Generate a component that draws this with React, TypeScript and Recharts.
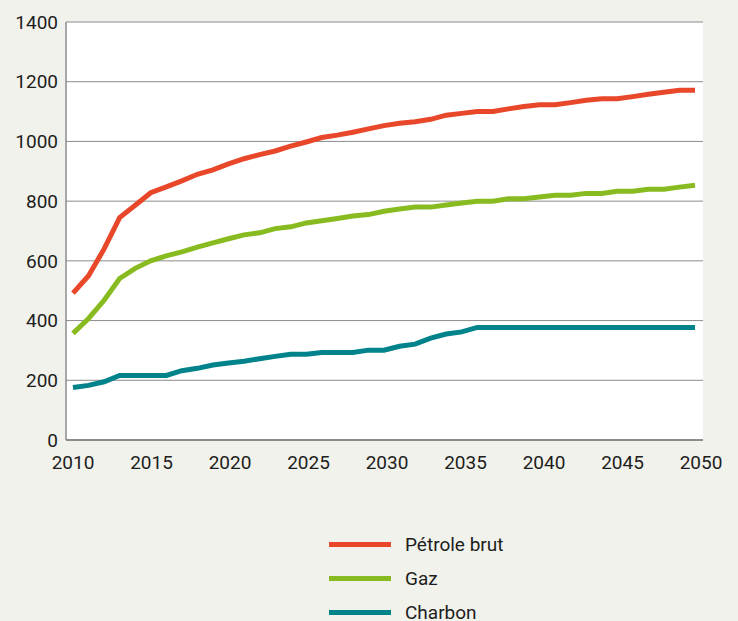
import React from "react";
import {
  LineChart,
  Line,
  XAxis,
  YAxis,
  CartesianGrid,
} from "recharts";

// years 2010..2050
const years = [
  2010, 2011, 2012, 2013, 2014, 2015, 2016, 2017, 2018, 2019,
  2020, 2021, 2022, 2023, 2024, 2025, 2026, 2027, 2028, 2029,
  2030, 2031, 2032, 2033, 2034, 2035, 2036, 2037, 2038, 2039,
  2040, 2041, 2042, 2043, 2044, 2045, 2046, 2047, 2048, 2049,
  2050,
];

const petrole = [
  492, 550, 640, 745, 786, 828, 848, 868, 890, 905,
  925, 942, 956, 968, 984, 998, 1013, 1021, 1031, 1042,
  1053, 1061, 1066, 1074, 1088, 1094, 1100, 1100, 1109, 1117,
  1123, 1123, 1130, 1138, 1143, 1143, 1150, 1158, 1165, 1171,
  1171,
];

const gaz = [
  357, 407, 468, 541, 575, 600, 617, 630, 646, 660,
  674, 687, 694, 708, 714, 727, 734, 742, 750, 755,
  766, 774, 780, 780, 787, 794, 800, 800, 808, 808,
  814, 820, 820, 826, 826, 833, 833, 840, 840, 847,
  853,
];

const charbon = [
  176, 183, 195, 216, 216, 216, 216, 232, 240, 251,
  258, 264, 272, 280, 287, 287, 293, 293, 293, 301,
  301, 314, 321, 341, 355, 362, 377, 377, 377, 377,
  377, 377, 377, 377, 377, 377, 377, 377, 377, 377,
  377,
];

const xTicks = [2010, 2015, 2020, 2025, 2030, 2035, 2040, 2045, 2050];
const yTicks = [0, 200, 400, 600, 800, 1000, 1200, 1400];

const series = [
  { key: "petrole", name: "Pétrole brut", color: "#e8472a" },
  { key: "gaz", name: "Gaz", color: "#88bb1f" },
  { key: "charbon", name: "Charbon", color: "#00838b" },
];

const data = years.map((year, i) => ({
  year,
  petrole: petrole[i],
  gaz: gaz[i],
  charbon: charbon[i],
}));

const FONT = "Roboto, 'Open Sans', sans-serif";
const TEXT = "#1d1d1b";

function XTick(props: any) {
  const { x, y, payload, index } = props;
  return (
    <text
      x={x + index * 0.75}
      y={y}
      dy="0.71em"
      textAnchor="middle"
      fill={TEXT}
      fontSize={19}
      fontFamily={FONT}
    >
      {payload.value}
    </text>
  );
}

// legend sits below the plot, outside the svg
function LegendBox() {
  return (
    <div
      style={{
        position: "absolute",
        left: 329,
        top: 527,
        fontFamily: FONT,
        fontSize: 19,
        color: TEXT,
      }}
    >
      {series.map((s) => (
        <div
          key={s.key}
          style={{ display: "flex", alignItems: "center", height: 34 }}
        >
          <div
            style={{
              width: 62,
              height: 5,
              background: s.color,
              marginRight: 14,
            }}
          />
          <span>{s.name}</span>
        </div>
      ))}
    </div>
  );
}

export default function App() {
  return (
    <div
      style={{
        position: "absolute",
        left: 0,
        top: 0,
        width: 738,
        height: 621,
        background: "#f2f2ed",
        overflow: "hidden",
      }}
    >
      <LineChart
        width={738}
        height={621}
        data={data}
        margin={{ top: 22, right: 35, left: 6, bottom: 151 }}
      >
        <CartesianGrid
          vertical={false}
          stroke="#8c8c8c"
          strokeWidth={1}
          fill="#ffffff"
          fillOpacity={1}
        />
        <XAxis
          dataKey="year"
          type="number"
          domain={[2010, 2050]}
          ticks={xTicks}
          padding={{ left: 7, right: 8 }}
          height={30}
          tickLine={false}
          tickMargin={10}
          axisLine={{ stroke: "#7a7a7a", strokeWidth: 1.5 }}
          tick={<XTick />}
        />
        <YAxis
          domain={[0, 1400]}
          ticks={yTicks}
          width={60}
          tickLine={false}
          axisLine={{ stroke: "#8c8c8c", strokeWidth: 1.5 }}
          tick={{ fill: TEXT, fontSize: 19, fontFamily: FONT }}
        />
        {series.map((s) => (
          <Line
            key={s.key}
            type="linear"
            dataKey={s.key}
            name={s.name}
            stroke={s.color}
            strokeWidth={5}
            dot={false}
            activeDot={false}
            isAnimationActive={false}
          />
        ))}
      </LineChart>
      <LegendBox />
    </div>
  );
}
